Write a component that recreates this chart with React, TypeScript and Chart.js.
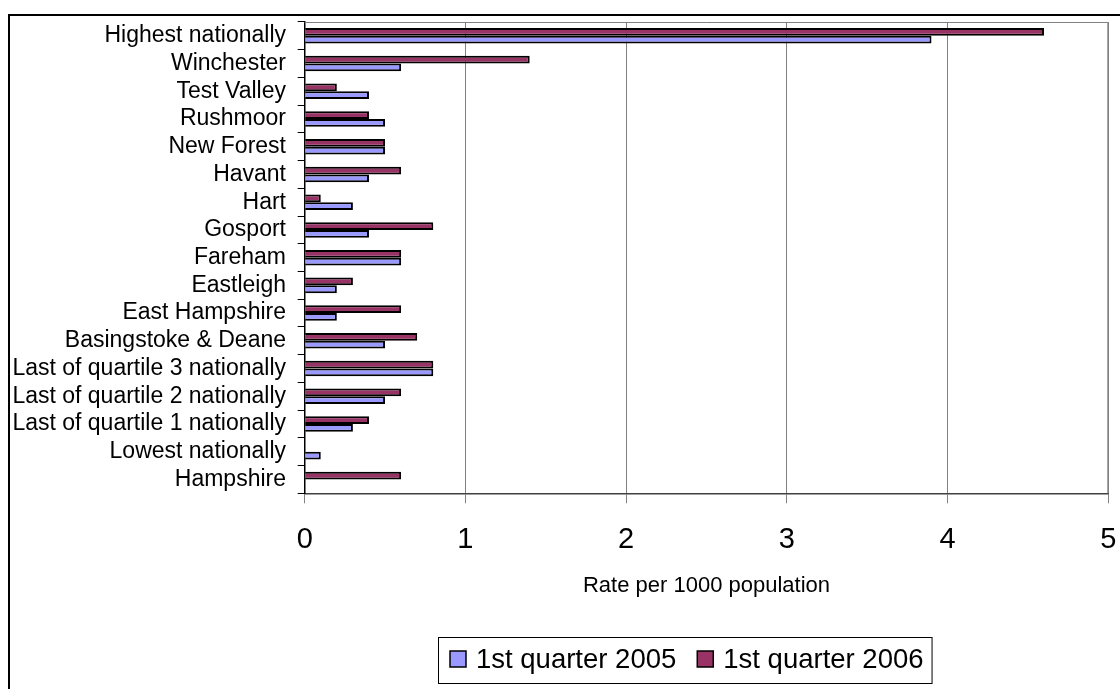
import React, { useEffect, useRef } from "react";
import { Chart, registerables } from "chart.js";

Chart.register(...registerables);

const categories = [
  "Highest nationally",
  "Winchester",
  "Test Valley",
  "Rushmoor",
  "New Forest",
  "Havant",
  "Hart",
  "Gosport",
  "Fareham",
  "Eastleigh",
  "East Hampshire",
  "Basingstoke & Deane",
  "Last of quartile 3 nationally",
  "Last of quartile 2 nationally",
  "Last of quartile 1 nationally",
  "Lowest nationally",
  "Hampshire",
];

const q2005: (number | null)[] = [3.9, 0.6, 0.4, 0.5, 0.5, 0.4, 0.3, 0.4, 0.6, 0.2, 0.2, 0.5, 0.8, 0.5, 0.3, 0.1, null];
const q2006: (number | null)[] = [4.6, 1.4, 0.2, 0.4, 0.5, 0.6, 0.1, 0.8, 0.6, 0.3, 0.6, 0.7, 0.8, 0.6, 0.4, null, 0.6];

const seriesLabels = ["1st quarter 2005", "1st quarter 2006"];
const seriesColors = ["#9999FF", "#993366"];
const xMin = 0;
const xMax = 5;
const xStep = 1;
const xTitle = "Rate per 1000 population";

const FONT = "'Liberation Sans', Arial, Helvetica, sans-serif";

const framePlugin = {
  id: "frameAndLegend",
  beforeDatasetsDraw(chart: any) {
    const { ctx, chartArea } = chart;
    ctx.save();
    ctx.strokeStyle = "#808080";
    ctx.lineWidth = 1;
    ctx.beginPath();
    ctx.moveTo(chartArea.left, chartArea.top + 0.5);
    ctx.lineTo(chartArea.right - 0.5, chartArea.top + 0.5);
    ctx.lineTo(chartArea.right - 0.5, chartArea.bottom);
    ctx.stroke();
    ctx.restore();
  },
  afterDraw(chart: any) {
    const { ctx } = chart;
    ctx.save();
    // outer frame (left + top edges)
    ctx.strokeStyle = "#000";
    ctx.lineWidth = 2;
    ctx.beginPath();
    ctx.moveTo(9, 689);
    ctx.lineTo(9, 15);
    ctx.lineTo(1120, 15);
    ctx.stroke();

    // legend, in series order (2005 first)
    const ds = chart.data.datasets;
    const order = [1, 0];
    ctx.font = `27.5px ${FONT}`;
    ctx.textBaseline = "middle";
    ctx.textAlign = "left";
    const sw = 16;
    const gapText = 10;
    const gapItem = 21;
    let total = 0;
    order.forEach((idx, k) => {
      total += sw + gapText + ctx.measureText(ds[idx].label).width;
      if (k < order.length - 1) total += gapItem;
    });
    const startX = 450;
    const cy = 659;
    ctx.strokeStyle = "#000";
    ctx.lineWidth = 1;
    ctx.strokeRect(438.5, 637.5, total + 12 + 8, 46);
    let x = startX;
    order.forEach((idx) => {
      ctx.fillStyle = ds[idx].backgroundColor;
      ctx.fillRect(x, cy - 8, sw, sw);
      ctx.lineWidth = 1.5;
      ctx.strokeStyle = "#000";
      ctx.strokeRect(x, cy - 8, sw, sw);
      x += sw + gapText;
      ctx.fillStyle = "#000";
      ctx.fillText(ds[idx].label, x, cy + 1);
      x += ctx.measureText(ds[idx].label).width + gapItem;
    });
    ctx.restore();
  },
};

export default function App() {
  const ref = useRef<HTMLCanvasElement | null>(null);

  useEffect(() => {
    document.body.style.margin = "0";
    const canvas = ref.current;
    if (!canvas) return;
    Chart.defaults.font.family = FONT;
    const chart = new Chart(canvas, {
      type: "bar",
      data: {
        labels: categories,
        datasets: [
          {
            label: seriesLabels[1],
            data: q2006,
            backgroundColor: seriesColors[1],
            borderColor: "#000",
            borderWidth: 2,
            categoryPercentage: 0.56,
            barPercentage: 1,
          },
          {
            label: seriesLabels[0],
            data: q2005,
            backgroundColor: seriesColors[0],
            borderColor: "#000",
            borderWidth: 2,
            categoryPercentage: 0.56,
            barPercentage: 1,
          },
        ],
      },
      options: {
        indexAxis: "y",
        responsive: false,
        animation: false,
        layout: { padding: { left: 0, right: 11.7, top: 22, bottom: 85.7 } },
        plugins: {
          legend: { display: false },
          tooltip: { enabled: false },
        },
        scales: {
          x: {
            type: "linear",
            position: "bottom",
            min: xMin,
            max: xMax,
            ticks: {
              stepSize: xStep,
              color: "#000",
              font: { size: 29, family: FONT },
              padding: 19,
            },
            grid: {
              color: "#808080",
              lineWidth: 1,
              tickLength: 10,
              drawTicks: true,
            },
            border: { display: true, color: "#404040", width: 1.5 },
            title: {
              display: true,
              text: xTitle,
              color: "#000",
              font: { size: 22, family: FONT },
              padding: { top: 0, bottom: 4.6 },
            },
            afterFit: (scale: any) => {
              scale.height = 110;
              scale.paddingLeft = 0;
              scale.paddingRight = 0;
            },
          },
          y: {
            type: "category",
            offset: true,
            ticks: {
              color: "#000",
              font: { size: 23, family: FONT },
              padding: 11.7,
              autoSkip: false,
            },
            grid: {
              offset: true,
              drawOnChartArea: false,
              color: "#000",
              tickLength: 7,
            },
            border: { display: true, color: "#000", width: 1.5 },
            afterFit: (scale: any) => {
              scale.width = 304.7;
              scale.paddingTop = 0;
              scale.paddingBottom = 0;
            },
          },
        },
      },
      plugins: [framePlugin],
    });
    return () => chart.destroy();
  }, []);

  return (
    <div style={{ width: 1120, height: 689 }}>
      <canvas ref={ref} width={1120} height={689} />
    </div>
  );
}
